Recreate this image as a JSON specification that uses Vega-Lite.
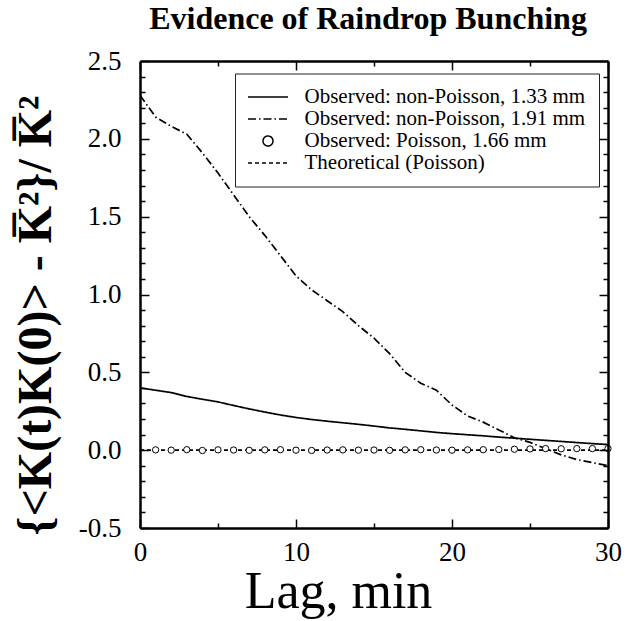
{
  "$schema": "https://vega.github.io/schema/vega-lite/v6.json",
  "width": 468,
  "height": 467,
  "autosize": "none",
  "padding": {"left": 140, "top": 61, "right": 21, "bottom": 93},
  "background": "white",
  "config": {
    "font": "Liberation Serif",
    "view": {"stroke": null},
    "axis": {"grid": false, "labelColor": "black", "titleColor": "black", "labelFont": "Liberation Serif", "titleFont": "Liberation Serif"}
  },
  "title": {"text": "Evidence of Raindrop Bunching", "font": "Liberation Serif", "fontSize": 32, "fontWeight": "bold", "color": "black", "anchor": "middle", "offset": 11, "dx": -6},
  "datasets": {
    "lines": [
      {"series": "Observed: non-Poisson, 1.33 mm", "lag": 0, "value": 0.40},
      {"series": "Observed: non-Poisson, 1.33 mm", "lag": 1, "value": 0.385},
      {"series": "Observed: non-Poisson, 1.33 mm", "lag": 2, "value": 0.37},
      {"series": "Observed: non-Poisson, 1.33 mm", "lag": 3, "value": 0.345},
      {"series": "Observed: non-Poisson, 1.33 mm", "lag": 4, "value": 0.327},
      {"series": "Observed: non-Poisson, 1.33 mm", "lag": 5, "value": 0.31},
      {"series": "Observed: non-Poisson, 1.33 mm", "lag": 6, "value": 0.287},
      {"series": "Observed: non-Poisson, 1.33 mm", "lag": 7, "value": 0.265},
      {"series": "Observed: non-Poisson, 1.33 mm", "lag": 8, "value": 0.245},
      {"series": "Observed: non-Poisson, 1.33 mm", "lag": 9, "value": 0.226},
      {"series": "Observed: non-Poisson, 1.33 mm", "lag": 10, "value": 0.21},
      {"series": "Observed: non-Poisson, 1.33 mm", "lag": 11, "value": 0.197},
      {"series": "Observed: non-Poisson, 1.33 mm", "lag": 12, "value": 0.186},
      {"series": "Observed: non-Poisson, 1.33 mm", "lag": 13, "value": 0.176},
      {"series": "Observed: non-Poisson, 1.33 mm", "lag": 14, "value": 0.166},
      {"series": "Observed: non-Poisson, 1.33 mm", "lag": 15, "value": 0.155},
      {"series": "Observed: non-Poisson, 1.33 mm", "lag": 16, "value": 0.143},
      {"series": "Observed: non-Poisson, 1.33 mm", "lag": 17, "value": 0.134},
      {"series": "Observed: non-Poisson, 1.33 mm", "lag": 18, "value": 0.124},
      {"series": "Observed: non-Poisson, 1.33 mm", "lag": 19, "value": 0.114},
      {"series": "Observed: non-Poisson, 1.33 mm", "lag": 20, "value": 0.106},
      {"series": "Observed: non-Poisson, 1.33 mm", "lag": 21, "value": 0.099},
      {"series": "Observed: non-Poisson, 1.33 mm", "lag": 22, "value": 0.092},
      {"series": "Observed: non-Poisson, 1.33 mm", "lag": 23, "value": 0.084},
      {"series": "Observed: non-Poisson, 1.33 mm", "lag": 24, "value": 0.077},
      {"series": "Observed: non-Poisson, 1.33 mm", "lag": 25, "value": 0.07},
      {"series": "Observed: non-Poisson, 1.33 mm", "lag": 26, "value": 0.063},
      {"series": "Observed: non-Poisson, 1.33 mm", "lag": 27, "value": 0.056},
      {"series": "Observed: non-Poisson, 1.33 mm", "lag": 28, "value": 0.049},
      {"series": "Observed: non-Poisson, 1.33 mm", "lag": 29, "value": 0.042},
      {"series": "Observed: non-Poisson, 1.33 mm", "lag": 30, "value": 0.036},
      {"series": "Observed: non-Poisson, 1.91 mm", "lag": 0, "value": 2.28},
      {"series": "Observed: non-Poisson, 1.91 mm", "lag": 1, "value": 2.14},
      {"series": "Observed: non-Poisson, 1.91 mm", "lag": 2, "value": 2.08},
      {"series": "Observed: non-Poisson, 1.91 mm", "lag": 3, "value": 2.03},
      {"series": "Observed: non-Poisson, 1.91 mm", "lag": 4, "value": 1.91},
      {"series": "Observed: non-Poisson, 1.91 mm", "lag": 5, "value": 1.78},
      {"series": "Observed: non-Poisson, 1.91 mm", "lag": 6, "value": 1.64},
      {"series": "Observed: non-Poisson, 1.91 mm", "lag": 7, "value": 1.50},
      {"series": "Observed: non-Poisson, 1.91 mm", "lag": 8, "value": 1.38},
      {"series": "Observed: non-Poisson, 1.91 mm", "lag": 9, "value": 1.25},
      {"series": "Observed: non-Poisson, 1.91 mm", "lag": 10, "value": 1.12},
      {"series": "Observed: non-Poisson, 1.91 mm", "lag": 11, "value": 1.03},
      {"series": "Observed: non-Poisson, 1.91 mm", "lag": 12, "value": 0.96},
      {"series": "Observed: non-Poisson, 1.91 mm", "lag": 13, "value": 0.89},
      {"series": "Observed: non-Poisson, 1.91 mm", "lag": 14, "value": 0.80},
      {"series": "Observed: non-Poisson, 1.91 mm", "lag": 15, "value": 0.72},
      {"series": "Observed: non-Poisson, 1.91 mm", "lag": 16, "value": 0.62},
      {"series": "Observed: non-Poisson, 1.91 mm", "lag": 17, "value": 0.50},
      {"series": "Observed: non-Poisson, 1.91 mm", "lag": 18, "value": 0.43},
      {"series": "Observed: non-Poisson, 1.91 mm", "lag": 19, "value": 0.385},
      {"series": "Observed: non-Poisson, 1.91 mm", "lag": 20, "value": 0.29},
      {"series": "Observed: non-Poisson, 1.91 mm", "lag": 21, "value": 0.22},
      {"series": "Observed: non-Poisson, 1.91 mm", "lag": 22, "value": 0.18},
      {"series": "Observed: non-Poisson, 1.91 mm", "lag": 23, "value": 0.13},
      {"series": "Observed: non-Poisson, 1.91 mm", "lag": 24, "value": 0.08},
      {"series": "Observed: non-Poisson, 1.91 mm", "lag": 25, "value": 0.05},
      {"series": "Observed: non-Poisson, 1.91 mm", "lag": 26, "value": 0.01},
      {"series": "Observed: non-Poisson, 1.91 mm", "lag": 27, "value": -0.03},
      {"series": "Observed: non-Poisson, 1.91 mm", "lag": 28, "value": -0.06},
      {"series": "Observed: non-Poisson, 1.91 mm", "lag": 29, "value": -0.08},
      {"series": "Observed: non-Poisson, 1.91 mm", "lag": 30, "value": -0.10},
      {"series": "Theoretical (Poisson)", "lag": 0, "value": 0},
      {"series": "Theoretical (Poisson)", "lag": 30, "value": 0}
    ],
    "circles": [
      {"lag": 1, "value": 0.002}, {"lag": 2, "value": 0.0}, {"lag": 3, "value": 0.003},
      {"lag": 4, "value": -0.002}, {"lag": 5, "value": 0.002}, {"lag": 6, "value": 0.001},
      {"lag": 7, "value": -0.001}, {"lag": 8, "value": 0.002}, {"lag": 9, "value": 0.003},
      {"lag": 10, "value": 0.0}, {"lag": 11, "value": -0.002}, {"lag": 12, "value": 0.001},
      {"lag": 13, "value": 0.002}, {"lag": 14, "value": 0.0}, {"lag": 15, "value": 0.001},
      {"lag": 16, "value": -0.001}, {"lag": 17, "value": 0.002}, {"lag": 18, "value": 0.003},
      {"lag": 19, "value": 0.001}, {"lag": 20, "value": 0.0}, {"lag": 21, "value": 0.002},
      {"lag": 22, "value": 0.003}, {"lag": 23, "value": 0.004}, {"lag": 24, "value": 0.006},
      {"lag": 25, "value": 0.008}, {"lag": 26, "value": 0.01}, {"lag": 27, "value": 0.009},
      {"lag": 28, "value": 0.01}, {"lag": 29, "value": 0.01}, {"lag": 30, "value": 0.01}
    ]
  },
  "layer": [
    {
      "data": {"name": "lines"},
      "mark": {"type": "line", "color": "black", "strokeWidth": 1.7, "clip": true},
      "encoding": {
        "x": {
          "field": "lag", "type": "quantitative",
          "scale": {"domain": [0, 30], "nice": false, "zero": false},
          "axis": {
            "orient": "bottom", "values": [0, 5, 10, 15, 20, 25, 30], "format": "d", "zindex": 1,
            "domain": true, "domainColor": "black", "domainWidth": 2.5, "domainOpacity": 1,
            "ticks": true, "tickColor": "black", "tickWidth": 1.5, "tickOpacity": 1,
            "labelExpr": "datum.value % 10 === 0 ? datum.label : ''",
            "labelFontSize": 27, "labelPadding": 20, "labelFlush": false, "labelOverlap": false,
            "tickSize": {"condition": {"test": "datum.value % 10 === 0", "value": -9}, "value": -5},
            "title": "Lag, min", "titleFontSize": 52, "titleFontWeight": "normal",
            "titleX": 198, "titleY": 79, "titleAlign": "center", "titleBaseline": "alphabetic"
          }
        },
        "y": {
          "field": "value", "type": "quantitative",
          "scale": {"domain": [-0.5, 2.5], "nice": false, "zero": false},
          "axis": {
            "orient": "left", "zindex": 1,
            "domain": true, "domainColor": "black", "domainWidth": 2.5, "domainOpacity": 1,
            "ticks": true, "tickColor": "black", "tickWidth": 1.5, "tickOpacity": 1,
            "values": [-0.5, -0.4, -0.3, -0.2, -0.1, 0, 0.1, 0.2, 0.3, 0.4, 0.5, 0.6, 0.7, 0.8, 0.9, 1.0, 1.1, 1.2, 1.3, 1.4, 1.5, 1.6, 1.7, 1.8, 1.9, 2.0, 2.1, 2.2, 2.3, 2.4, 2.5],
            "labelExpr": "abs(datum.value*2 - round(datum.value*2)) < 0.001 ? (datum.value < -0.001 ? '-' : '') + format(abs(datum.value), '.1f') : ''",
            "labelFontSize": 27, "labelPadding": 28, "labelFlush": false, "labelOverlap": false,
            "tickSize": {"condition": {"test": "abs(datum.value*2 - round(datum.value*2)) < 0.001", "value": -9}, "value": -5},
            "title": "{<K(t)K(0)> - K\u0305\u00b2}/ K\u0305\u00b2",
            "titleFontSize": 48, "titleFontWeight": "bold",
            "titleX": -90, "titleY": 254, "titleAngle": -90, "titleAlign": "center", "titleBaseline": "alphabetic"
          }
        },
        "strokeDash": {
          "field": "series", "type": "nominal",
          "scale": {
            "domain": ["Observed: non-Poisson, 1.33 mm", "Observed: non-Poisson, 1.91 mm", "Observed: Poisson, 1.66 mm", "Theoretical (Poisson)"],
            "range": [[1, 0], [8, 3, 1.5, 3], [1, 0], [4, 3]]
          },
          "legend": {
            "orient": "none", "legendX": 95, "legendY": 12.5, "title": null,
            "padding": 13, "rowPadding": 0,
            "symbolType": "M-4,0L4,0", "symbolSize": 100, "symbolStrokeWidth": 1.5, "symbolStrokeColor": "black", "symbolOffset": 9.5,
            "labelFont": "Liberation Serif", "labelFontSize": 21, "labelColor": "black", "labelOffset": 26, "labelLimit": 500,
            "strokeColor": "#222222", "fillColor": "white",
            "encode": {
              "symbols": {"update": {
                "shape": {"signal": "datum.value === 'Observed: Poisson, 1.66 mm' ? 'M1,0A1,1,0,1,1,-1,0A1,1,0,1,1,1,0Z' : 'M-4,0L4,0'"}
              }}
            }
          }
        }
      }
    },
    {
      "data": {"name": "circles"},
      "mark": {"type": "point", "shape": "circle", "filled": true, "fill": "white", "stroke": "black", "strokeWidth": 1, "size": 40, "opacity": 1},
      "encoding": {
        "x": {
          "field": "lag", "type": "quantitative",
          "axis": {
            "orient": "top", "values": [0, 5, 10, 15, 20, 25, 30], "labels": false, "title": null, "zindex": 1,
            "domain": true, "domainColor": "black", "domainWidth": 2.5, "domainOpacity": 1,
            "ticks": true, "tickColor": "black", "tickWidth": 1.5, "tickOpacity": 1,
            "tickSize": {"condition": {"test": "datum.value % 10 === 0", "value": -9}, "value": -5}
          }
        },
        "y": {
          "field": "value", "type": "quantitative",
          "axis": {
            "orient": "right", "zindex": 1,
            "domain": true, "domainColor": "black", "domainWidth": 2.5, "domainOpacity": 1,
            "ticks": true, "tickColor": "black", "tickWidth": 1.5, "tickOpacity": 1,
            "tickSize": {"condition": {"test": "abs(datum.value*2 - round(datum.value*2)) < 0.001", "value": -9}, "value": -5},
            "values": [-0.5, -0.4, -0.3, -0.2, -0.1, 0, 0.1, 0.2, 0.3, 0.4, 0.5, 0.6, 0.7, 0.8, 0.9, 1.0, 1.1, 1.2, 1.3, 1.4, 1.5, 1.6, 1.7, 1.8, 1.9, 2.0, 2.1, 2.2, 2.3, 2.4, 2.5],
            "labels": false, "title": null
          }
        }
      }
    }
  ],
  "resolve": {"axis": {"x": "independent", "y": "independent"}}
}
